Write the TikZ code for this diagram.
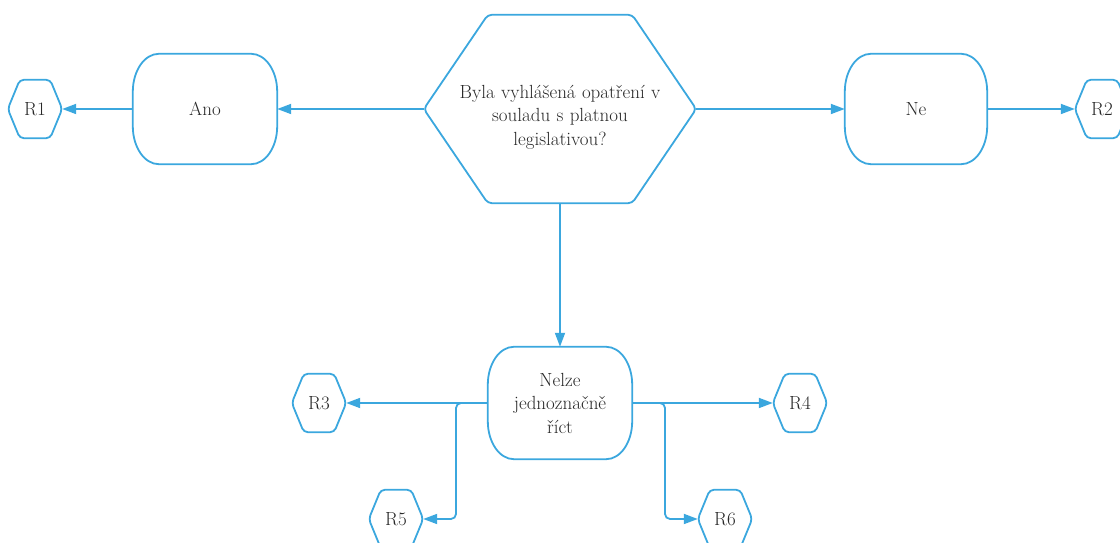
\documentclass[tikz,border=0pt]{standalone}
\usetikzlibrary{arrows.meta,calc}
\definecolor{flow}{RGB}{59,167,222}
\definecolor{ink}{RGB}{40,40,40}
\tikzset{
  box/.style={draw=none, inner sep=0pt, align=center, text=ink, font=\fontsize{19}{23.5}\selectfont},
  line/.style={draw=flow, line width=1.8pt},
  arr/.style={line, -{Triangle[length=14pt,width=10pt]}},
  outline/.style={draw=flow, line width=1.8pt, line join=round},
}
% hexagon: name, x, y, half width, half height, inset, text
\newcommand{\hexnode}[7]{%
  \node[box, minimum width=#4*2pt, minimum height=#5*2pt] (#1) at (#2,#3) {#7};
  \draw[outline, rounded corners=4pt] (#1.west) -- ([xshift=#6pt]#1.north west) -- ([xshift=-#6pt]#1.north east) -- (#1.east) -- ([xshift=-#6pt]#1.south east) -- ([xshift=#6pt]#1.south west) -- cycle;
}
% capsule box with elliptical corners: name, x, y, half width, half height, text
\newcommand{\capnode}[6]{%
  \node[box, minimum width=#4*2pt, minimum height=#5*2pt] (#1) at (#2,#3) {#6};
  \draw[outline] ([xshift=26pt]#1.north west) -- ([xshift=-26pt]#1.north east)
    arc[start angle=90, end angle=0, x radius=26pt, y radius=38pt]
    -- ([yshift=38pt]#1.south east)
    arc[start angle=0, end angle=-90, x radius=26pt, y radius=38pt]
    -- ([xshift=26pt]#1.south west)
    arc[start angle=270, end angle=180, x radius=26pt, y radius=38pt]
    -- ([yshift=-38pt]#1.north west)
    arc[start angle=180, end angle=90, x radius=26pt, y radius=38pt] -- cycle;
}
\begin{document}
\begin{tikzpicture}[x=1pt,y=1pt]
\useasboundingbox (0,0) rectangle (1120,543);
\hexnode{Q}{560}{434}{136}{94}{64}{}
\node[box, text width=240pt] (Qt) at (560,426) {Byla vyhlášená opatření v\\ souladu s platnou\\ legislativou?};
\capnode{Ano}{205}{434}{72}{55}{Ano}
\capnode{Ne}{916}{434}{71}{55}{Ne}
\capnode{N}{560}{140}{72}{56}{Nelze\\ jednoznačně\\ říct}
\hexnode{R1}{35}{434}{27}{29}{12}{R1}
\hexnode{R2}{1102}{434}{27}{29}{12}{R2}
\hexnode{R3}{319}{140}{27}{29}{12}{R3}
\hexnode{R4}{800}{140}{27}{29}{12}{R4}
\hexnode{R5}{396}{24}{27}{29}{12}{R5}
\hexnode{R6}{725}{24}{27}{29}{12}{R6}
\coordinate (bl) at (456,0);
\coordinate (br) at (665,0);
\draw[arr] (Q.west) -- (Ano.east);
\draw[arr] (Q.east) -- (Ne.west);
\draw[arr] (Ano.west) -- (R1.east);
\draw[arr] (Ne.east) -- (R2.west);
\draw[arr] (Q.south) -- (N.north);
\draw[arr] (N.west) -- (R3.east);
\draw[arr] (N.east) -- (R4.west);
\draw[arr, rounded corners=5pt] (N.west) -| (bl |- R5.east) -- (R5.east);
\draw[arr, rounded corners=5pt] (N.east) -| (br |- R6.west) -- (R6.west);
\end{tikzpicture}
\end{document}
